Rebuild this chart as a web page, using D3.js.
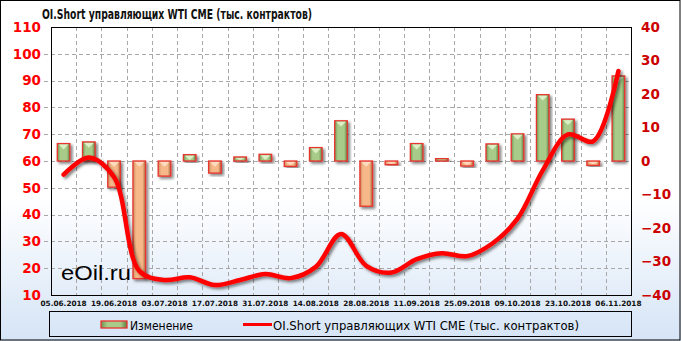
<!DOCTYPE html>
<html>
<head>
<meta charset="utf-8">
<script src="https://cdn.jsdelivr.net/npm/d3@7/dist/d3.min.js"></script>
<style>
  body { margin: 0; padding: 0; background: #fff; }
  svg { display: block; }
</style>
</head>
<body>
<div id="chart"></div>
<script>
// weekly dates (every other one is labelled)
const dates = ["05.06.2018", "12.06.2018", "19.06.2018", "26.06.2018", "03.07.2018", "10.07.2018",
  "17.07.2018", "24.07.2018", "31.07.2018", "07.08.2018", "14.08.2018", "21.08.2018", "28.08.2018",
  "04.09.2018", "11.09.2018", "18.09.2018", "25.09.2018", "02.10.2018", "09.10.2018", "16.10.2018",
  "23.10.2018", "30.10.2018", "06.11.2018"];
// weekly change (right axis)
const change = [5.2, 5.7, -7.8, -35.1, -4.5, 1.9, -3.6, 1.2, 2.0, -1.6, 4.0, 12.0, -13.5,
  -1.1, 5.2, 0.7, -1.5, 5.1, 8.1, 19.8, 12.5, -1.3, 25.4];
// OI short of managers (left axis)
const oiShort = [54.9, 61.3, 54.0, 19.0, 15.6, 16.6, 13.7, 15.6, 17.8, 16.3, 20.5, 32.8, 20.9,
  18.4, 23.4, 25.6, 24.5, 29.2, 38.5, 56.5, 69.9, 67.4, 93.6];
const leftTicks = [10, 20, 30, 40, 50, 60, 70, 80, 90, 100, 110];
const rightTicks = [-40, -30, -20, -10, 0, 10, 20, 30, 40];
const xLabels = dates.filter((d, i) => i % 2 === 0);

const title = "OI.Short  управляющих  WTI  CME  (тыс. контрактов)";
const legendBar = "Изменение";
const legendLine = "OI.Short  управляющих  WTI  CME  (тыс. контрактов)";

const W = 681, H = 341;
const plot = { left: 51, right: 631, top: 27, bottom: 295 };

const svg = d3.select("#chart").append("svg")
  .attr("width", W).attr("height", H);

const defs = svg.append("defs");

// background gradient
const bg = defs.append("linearGradient").attr("id", "bg").attr("x1", 0).attr("y1", 0).attr("x2", 0).attr("y2", 1);
bg.append("stop").attr("offset", "0").attr("stop-color", "#ffffff");
bg.append("stop").attr("offset", "0.58").attr("stop-color", "#ffffff");
bg.append("stop").attr("offset", "1").attr("stop-color", "#d5e4f6");

// bar gradients
const gGreen = defs.append("linearGradient").attr("id", "gGreen").attr("x1", 0).attr("x2", 1).attr("y1", 0).attr("y2", 0);
gGreen.append("stop").attr("offset", "0").attr("stop-color", "#6f9450");
gGreen.append("stop").attr("offset", "0.25").attr("stop-color", "#a9cb89");
gGreen.append("stop").attr("offset", "0.75").attr("stop-color", "#a9cb89");
gGreen.append("stop").attr("offset", "1").attr("stop-color", "#5e7f42");
const gOrange = defs.append("linearGradient").attr("id", "gOrange").attr("x1", 0).attr("x2", 1).attr("y1", 0).attr("y2", 0);
gOrange.append("stop").attr("offset", "0").attr("stop-color", "#c98a5c");
gOrange.append("stop").attr("offset", "0.25").attr("stop-color", "#f6b888");
gOrange.append("stop").attr("offset", "0.75").attr("stop-color", "#f6b888");
gOrange.append("stop").attr("offset", "1").attr("stop-color", "#a86c44");

const shadow = defs.append("filter").attr("id", "shadow").attr("x", "-30%").attr("y", "-30%").attr("width", "160%").attr("height", "160%");
shadow.append("feDropShadow").attr("dx", 2).attr("dy", 2).attr("stdDeviation", 1.6)
  .attr("flood-color", "#000").attr("flood-opacity", 0.5);

svg.append("rect").attr("x", 0).attr("y", 0).attr("width", W).attr("height", H).attr("fill", "url(#bg)");
svg.append("rect").attr("x", 0.5).attr("y", 0.5).attr("width", W - 1.5).attr("height", H - 1.5)
  .attr("fill", "none").attr("stroke", "#000");

// Title
svg.append("text")
  .attr("x", 42).attr("y", 19)
  .attr("font-family", "'DejaVu Sans Condensed', 'DejaVu Sans', sans-serif")
  .attr("font-weight", "bold").attr("font-size", 13.5)
  .attr("textLength", 270).attr("lengthAdjust", "spacingAndGlyphs")
  .attr("fill", "#111")
  .text(title);

// scales
const x = d3.scaleBand().domain(dates).range([plot.left, plot.right]);
const yL = d3.scaleLinear().domain([10, 110]).range([plot.bottom, plot.top]);
const yR = d3.scaleLinear().domain([-40, 40]).range([plot.bottom, plot.top]);

// grid
const grid = svg.append("g").attr("stroke", "#a8a8a8").attr("stroke-dasharray", "4,3").attr("stroke-width", 1);
grid.selectAll("hline").data(leftTicks.slice(1, -1)).join("line")
  .attr("x1", plot.left - 7).attr("x2", plot.right)
  .attr("y1", d => Math.round(yL(d)) + 0.5).attr("y2", d => Math.round(yL(d)) + 0.5);
grid.selectAll("vline").data(dates.slice(1)).join("line")
  .attr("x1", d => Math.round(x(d)) + 0.5).attr("x2", d => Math.round(x(d)) + 0.5)
  .attr("y1", plot.top).attr("y2", plot.bottom);

// Left axis
const axL = svg.append("g")
  .attr("transform", `translate(${plot.left},0)`)
  .call(d3.axisLeft(yL).tickValues(leftTicks).tickSize(0).tickPadding(10));
axL.select(".domain").remove();
axL.selectAll("text").attr("fill", "#ff0000").attr("font-size", 13.5).attr("font-weight", "bold")
  .attr("font-family", "'DejaVu Sans', sans-serif");

// Right axis
const axR = svg.append("g")
  .attr("transform", `translate(${plot.right},0)`)
  .call(d3.axisRight(yR).tickValues(rightTicks).tickSize(0).tickPadding(10));
axR.select(".domain").remove();
axR.selectAll("text").attr("fill", "#cc0000").attr("font-size", 13.5).attr("font-weight", "bold")
  .attr("font-family", "'DejaVu Sans', sans-serif");

// X axis
const axX = svg.append("g")
  .attr("transform", `translate(0,${plot.bottom})`)
  .call(d3.axisBottom(x).tickValues(xLabels).tickSize(0).tickPadding(6));
axX.select(".domain").remove();
axX.selectAll("text").attr("fill", "#111").attr("font-size", 7.3).attr("font-weight", "bold")
  .attr("font-family", "'DejaVu Sans', sans-serif");

// watermark
svg.append("text")
  .attr("x", 61).attr("y", 280)
  .attr("font-family", "'Liberation Sans', Arial, sans-serif").attr("font-size", 20)
  .attr("textLength", 70).attr("lengthAdjust", "spacingAndGlyphs")
  .attr("fill", "#000")
  .text("eOil.ru");

// bars
const bw = x.bandwidth() * 0.5;
const bars = svg.append("g").selectAll("g").data(dates.map((d, i) => ({ date: d, v: change[i] }))).join("g")
  .attr("filter", "url(#shadow)");
bars.append("rect")
  .attr("x", d => x(d.date) + (x.bandwidth() - bw) / 2)
  .attr("y", d => Math.min(yR(d.v), yR(0)))
  .attr("width", bw)
  .attr("height", d => Math.max(2, Math.abs(yR(d.v) - yR(0))))
  .attr("fill", d => d.v >= 0 ? "url(#gGreen)" : "url(#gOrange)")
  .attr("stroke", "#e8342e").attr("stroke-width", 1.3);
// bevel on top of the bars
bars.append("path")
  .attr("d", d => {
    const x0 = x(d.date) + (x.bandwidth() - bw) / 2 + 1.5;
    const x1 = x0 + bw - 3;
    const top = Math.min(yR(d.v), yR(0)) + 1;
    const h = Math.min((bw - 3) / 2, Math.abs(yR(d.v) - yR(0)) - 2);
    if (h < 1) return "";
    return `M${x0},${top}L${x1},${top}L${(x0 + x1) / 2},${top + h}Z`;
  })
  .attr("fill", d => d.v >= 0 ? "#dcefc6" : "#fbdcc0");

// Add the line
const line = d3.line()
  .x((d, i) => x(dates[i]) + x.bandwidth() / 2)
  .y(d => yL(d))
  .curve(d3.curveCatmullRom.alpha(0.5));

svg.append("path")
  .datum(oiShort)
  .attr("d", line)
  .attr("fill", "none")
  .attr("stroke", "#ff0000")
  .attr("stroke-width", 4.5)
  .attr("stroke-linecap", "round")
  .attr("filter", "url(#shadow)");

// plot frame
svg.append("rect")
  .attr("x", plot.left + 0.5).attr("y", plot.top + 0.5)
  .attr("width", plot.right - plot.left).attr("height", plot.bottom - plot.top)
  .attr("fill", "none").attr("stroke", "#000").attr("stroke-width", 1);

// legend
const lg = svg.append("g");
lg.append("rect").attr("x", 49.5).attr("y", 311.5).attr("width", 582).attr("height", 25)
  .attr("fill", "none").attr("stroke", "#000");
lg.append("rect").attr("x", 101).attr("y", 321).attr("width", 26).attr("height", 7)
  .attr("fill", "url(#gGreen)").attr("stroke", "#e8342e").attr("stroke-width", 1.3);
lg.append("text").attr("x", 130).attr("y", 329.5)
  .attr("font-family", "'DejaVu Sans Condensed', 'DejaVu Sans', sans-serif").attr("font-size", 12.5)
  .attr("textLength", 63).attr("lengthAdjust", "spacingAndGlyphs")
  .text(legendBar);
lg.append("line").attr("x1", 243).attr("x2", 272).attr("y1", 324.5).attr("y2", 324.5)
  .attr("stroke", "#ff0000").attr("stroke-width", 3);
lg.append("text").attr("x", 273).attr("y", 329.5)
  .attr("font-family", "'DejaVu Sans Condensed', 'DejaVu Sans', sans-serif").attr("font-size", 12.5)
  .attr("textLength", 306).attr("lengthAdjust", "spacingAndGlyphs")
  .text(legendLine);
</script>
</body>
</html>
